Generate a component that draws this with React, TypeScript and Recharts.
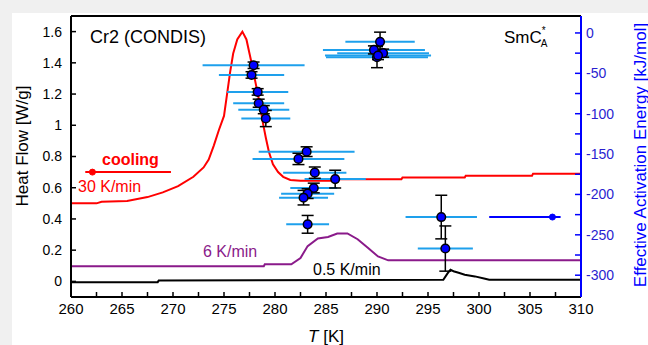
import React from 'react'
import {
  ComposedChart,
  Line,
  Scatter,
  ErrorBar,
  XAxis,
  YAxis,
  ReferenceLine
} from 'recharts'

// DSC curves: [T (K), heat flow (W/g)]
const cool30: [number, number][] = [
  [260, 0.5], [262.5, 0.5], [263, 0.51], [265.5, 0.515], [267.5, 0.54], [269, 0.57],
  [270.5, 0.61], [272, 0.67], [273, 0.73], [273.5, 0.78], [274, 0.87], [274.5, 0.97],
  [275, 1.06], [275.3, 1.2], [275.6, 1.34], [275.9, 1.46], [276.3, 1.55], [276.8, 1.6],
  [277.2, 1.55], [277.5, 1.46], [277.8, 1.37], [278.1, 1.27], [278.5, 1.14], [278.8, 1.02],
  [279.1, 0.92], [279.4, 0.83], [279.8, 0.75], [280.3, 0.7], [280.8, 0.67], [281.5, 0.65],
  [282.5, 0.645], [286, 0.645], [286.1, 0.655], [292.4, 0.655], [292.5, 0.665],
  [298.6, 0.665], [298.7, 0.677], [305.2, 0.677], [305.3, 0.69], [310, 0.69]
]
const cool6: [number, number][] = [
  [260, 0.097], [278.9, 0.097], [279, 0.11], [281.6, 0.11], [282.5, 0.15], [283.2, 0.226],
  [284.2, 0.275], [285.2, 0.284], [286.1, 0.307], [287.1, 0.307], [288.1, 0.27],
  [289.1, 0.215], [290.1, 0.16], [291.1, 0.135], [310, 0.135]
]
const cool05: [number, number][] = [
  [260, -0.005], [268.5, -0.005], [268.6, 0.005], [296.5, 0.01], [296.9, 0.05],
  [297.2, 0.075], [297.5, 0.065], [298, 0.055], [298.6, 0.043], [299.6, 0.032],
  [300.6, 0.017], [301, 0.011], [310, 0.011]
]

// activation energy points: [T, E (kJ/mol), T error, E error]
const energy: [number, number, number, number][] = [
  [277.9, -40, 5.0, 4], [277.7, -52, 3.2, 4], [278.3, -73, 3.0, 4], [278.4, -87, 2.5, 5],
  [278.9, -95, 2.5, 5], [279.1, -106, 2.4, 10], [283.1, -147, 4.7, 6], [282.3, -156, 4.5, 7],
  [283.9, -173, 3.1, 7], [285.9, -181, 3.0, 11], [283.8, -192, 2.3, 6], [283.2, -199, 2.6, 6],
  [282.8, -204, 2.4, 9], [283.2, -237, 2.1, 11], [290.3, -11, 3.4, 12], [289.7, -21, 5.0, 5],
  [290.0, -30, 5.0, 13], [290.6, -25, 4.5, 5], [290.1, -28, 5.2, 5], [296.3, -228, 3.5, 27],
  [296.7, -267, 2.7, 28]
]

// the two arrow markers pointing at their axes
const coolArrow: [number, number][] = [[261.4, 0.7], [262.1, 0.7], [269.8, 0.7]]
const energyArrow: [number, number][] = [[301, -228], [307.2, -228], [308, -228]]

const xTicks = [260, 262.5, 265, 267.5, 270, 272.5, 275, 277.5, 280, 282.5, 285, 287.5, 290,
  292.5, 295, 297.5, 300, 302.5, 305, 307.5, 310]
const hfTicks = [0, 0.2, 0.4, 0.6, 0.8, 1, 1.2, 1.4, 1.6]
const eaTicks = [0, -25, -50, -75, -100, -125, -150, -175, -200, -225, -250, -275, -300]

const toRows = (pts: [number, number][]) => pts.map(([T, v]) => ({ T, v }))
const arrowRows = (pts: [number, number][], key: string) =>
  pts.map(([T, y], i) => ({ T, [key]: y, mark: i === 1 }))

const energyRows = energy.map(([T, E, xErr, yErr]) => ({ T, E, xErr, yErr }))

const font = '"Liberation Sans", Arial, sans-serif'
const BLUE = '#0000ff'
const LIGHT = '#1ea0ec'
const PURPLE = '#8a1a8a'

const arrowDot = (color: string) => (p: any) =>
  p.payload.mark
    ? <circle key={p.index} cx={p.cx} cy={p.cy} r={3} fill={color} stroke={color} />
    : <g key={p.index} />

const pointShape = (p: any) => (
  <circle cx={p.cx} cy={p.cy} r={4.3} fill={BLUE} stroke="#000" strokeWidth={1.5} />
)

export default function App() {
  return (
    <div style={{ position: 'fixed', left: 0, top: 0, width: 648, height: 345, background: '#f0f0f0' }}>
      <div style={{ position: 'absolute', left: 12, top: 13, right: 0, bottom: 0, background: '#fff' }} />
      <div style={{ position: 'absolute', left: 0, top: 0 }}>
        <ComposedChart width={648} height={345} margin={{ top: 16, right: 17, bottom: 18, left: 21 }}>
          <XAxis
            dataKey="T"
            type="number"
            domain={[260, 310]}
            ticks={xTicks}
            interval={0}
            allowDataOverflow
            height={30}
            tickSize={-5}
            tickMargin={11}
            tickFormatter={(t: number) => (t % 5 === 0 ? String(t) : '')}
            axisLine={{ stroke: '#000', strokeWidth: 2 }}
            tickLine={{ stroke: '#000', strokeWidth: 1.5 }}
            tick={{ fill: '#000', fontSize: 15, fontFamily: font }}
          />
          <YAxis
            yAxisId="hf"
            type="number"
            domain={[-0.1, 1.7]}
            ticks={hfTicks}
            interval={0}
            allowDataOverflow
            width={50}
            tickSize={-5}
            tickMargin={14}
            axisLine={{ stroke: '#000', strokeWidth: 2 }}
            tickLine={{ stroke: '#000', strokeWidth: 1.5 }}
            tick={{ fill: '#000', fontSize: 14, fontFamily: font }}
          />
          <YAxis
            yAxisId="ea"
            orientation="right"
            dataKey="E"
            type="number"
            domain={[-327, 21]}
            ticks={eaTicks}
            interval={0}
            allowDataOverflow
            width={50}
            tickSize={-6}
            tickMargin={11}
            tickFormatter={(t: number) => (t % 50 === 0 ? String(t) : '')}
            axisLine={{ stroke: BLUE, strokeWidth: 2 }}
            tickLine={{ stroke: BLUE, strokeWidth: 1.5 }}
            tick={{ fill: '#2a1fd0', fontSize: 14, fontFamily: font }}
          />
          <ReferenceLine yAxisId="hf" y={1.7} stroke="#000" strokeWidth={2} />

          <Line yAxisId="hf" data={toRows(cool6)} dataKey="v" stroke={PURPLE} strokeWidth={2}
            dot={false} type="linear" isAnimationActive={false} />
          <Line yAxisId="hf" data={toRows(cool05)} dataKey="v" stroke="#000" strokeWidth={2}
            dot={false} type="linear" isAnimationActive={false} />
          <Line yAxisId="hf" data={toRows(cool30)} dataKey="v" stroke="#ff0000" strokeWidth={2}
            dot={false} type="linear" isAnimationActive={false} />
          <Line yAxisId="hf" data={arrowRows(coolArrow, 'v')} dataKey="v" stroke="#ff0000" strokeWidth={2}
            dot={arrowDot('#ff0000')} type="linear" isAnimationActive={false} />
          <Line yAxisId="ea" data={arrowRows(energyArrow, 'E')} dataKey="E" stroke={BLUE} strokeWidth={2}
            dot={arrowDot(BLUE)} type="linear" isAnimationActive={false} />

          <Scatter yAxisId="ea" data={energyRows} dataKey="E" shape={pointShape} isAnimationActive={false}>
            <ErrorBar dataKey="xErr" direction="x" width={0} stroke={LIGHT} strokeWidth={2} />
            <ErrorBar dataKey="yErr" direction="y" width={6} stroke="#000" strokeWidth={1.5} />
          </Scatter>
        </ComposedChart>
      </div>

      <svg width={648} height={345} style={{ position: 'absolute', left: 0, top: 0, pointerEvents: 'none' }}
        fontFamily={font}>
        <text x={90} y={43} fontSize={18} fill="#000">Cr2 (CONDIS)</text>
        <text x={504} y={43} fontSize={17} fill="#000">
          SmC<tspan fontSize={10} dy={-9}>*</tspan><tspan fontSize={10} dx={-5} dy={13}>A</tspan>
        </text>
        <text x={102} y={165} fontSize={16} fontWeight="bold" fill="#ff0000">cooling</text>
        <text x={78} y={192} fontSize={16} fill="#ff0000">30 K/min</text>
        <text x={203} y={257} fontSize={16} fill={PURPLE}>6 K/min</text>
        <text x={313} y={275} fontSize={16} fill="#000">0.5 K/min</text>
        <text x={326} y={342} fontSize={17} fill="#000" textAnchor="middle">
          <tspan fontStyle="italic">T</tspan> [K]
        </text>
        <text transform="translate(22,146) rotate(-90)" fontSize={17} fill="#000"
          textAnchor="middle" dominantBaseline="central">Heat Flow  [W/g]</text>
        <text transform="translate(640,155) rotate(-90)" fontSize={17} fill={BLUE}
          textAnchor="middle" dominantBaseline="central">Effective Activation Energy [kJ/mol]</text>
      </svg>
    </div>
  )
}
